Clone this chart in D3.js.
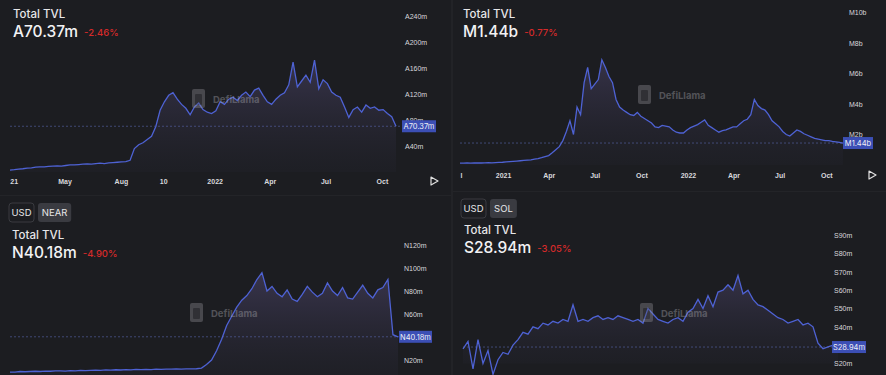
<!DOCTYPE html>
<html><head><meta charset="utf-8">
<script src="https://cdn.jsdelivr.net/npm/d3@7"></script>
<style>
html,body{margin:0;padding:0;background:#1c1d21;}
svg{display:block;font-family:Inter,"Noto Sans",sans-serif;}
</style></head><body>
<svg id="c" width="886" height="375"></svg>
<script>
// ---------- DATA ----------
// Panel 1: chain TVL (weekly from 2021-02-01), millions
const p1Start = "2021-02-01";
const p1Values = [3,3.5,4.5,5,6,6.5,7.5,8,8,8.5,9,9.5,9,10,11,11,11.5,12,12.5,12,13,13.5,13,14,14.5,15,15.5,16,18,36,
  42,45,50,55,70,95,108,118,122,112,104,98,88,100,106,96,92,90,94,108,104,112,115,110,118,123,116,126,129,118,
  108,104,112,118,122,134,169,131,140,149,138,172,128,142,136,123,118,115,100,84,96,100,92,103,98,100,95,96,90,85,70.37];
const p1TickDates = ["2021-02-07","2021-05-01","2021-08-01","2021-10-09","2022-01-01","2022-04-01","2022-07-01","2022-10-01"];
const p1TickLabels = ["21","May","Aug","10","2022","Apr","Jul","Oct"];
const p1YTicks = [40,80,120,160,200,240];
const p1YLabels = ["A40m","A80m","A120m","A160m","A200m","A240m"];

// Panel 2: chain TVL (weekly from 2020-10-08), billions
const p2Start = "2020-10-08";
const p2Values = [0.12,0.12,0.13,0.12,0.13,0.14,0.13,0.14,0.15,0.14,0.16,0.17,0.18,0.2,0.22,0.24,0.26,0.28,0.3,0.32,
  0.34,0.38,0.42,0.48,0.55,0.62,0.8,1.0,1.2,1.6,2.2,2.9,2.0,3.8,3.3,5.4,6.4,5.0,5.3,5.6,
  6.9,6.4,5.8,5.4,4.3,3.8,3.6,3.45,3.3,3.25,3.45,3.2,3.05,2.9,2.75,2.5,2.45,2.6,2.55,2.5,
  2.3,2.15,2.1,2.1,2.3,2.45,2.55,2.65,2.8,2.95,2.6,2.45,2.3,2.15,2.25,2.3,2.4,2.5,2.5,2.7,
  2.9,3.0,3.3,4.3,3.9,3.7,3.6,3.3,2.9,2.7,2.5,2.2,2.0,1.9,2.1,2.3,2.2,2.05,1.95,1.85,
  1.75,1.7,1.65,1.6,1.6,1.55,1.52,1.48,1.44];
const p2TickDates = ["2020-10-10","2021-01-01","2021-04-01","2021-07-01","2021-10-01","2022-01-01","2022-04-01","2022-07-01","2022-10-01"];
const p2TickLabels = ["l","2021","Apr","Jul","Oct","2022","Apr","Jul","Oct"];
const p2YTicks = [2,4,6,8,10];
const p2YLabels = ["M2b","M4b","M6b","M8b","M10b"];

// Panel 3: NEAR denominated TVL (millions)
const p3Values = [9.5,9.5,10,9.8,10,10.2,10,10.4,10.2,10.5,10.6,10.4,10.8,10.6,11,10.8,11,11.2,11,11.4,
  11.2,11.5,11.3,11.6,11.4,11.8,11.6,11.9,11.7,12,11.8,12.1,12,12.2,12.1,12.3,12.2,12.4,13,16,
  20,28,38,50,58,66,72,76,82,90,96,80,84,78,75,81,73,71,77,84,
  79,75,78,87,80,76,83,74,73,79,85,78,74,81,83,90,42,40.18];
const p3YTicks = [20,60,80,100,120];
const p3YLabels = ["N20m","N60m","N80m","N100m","N120m"];

// Panel 4: SOL denominated TVL (millions)
const p4Values = [28,32,17,33,20,27,14,22,26,25,30,33,37,36,40,39,42,41,43,42,
  44,43,52,43,44,43,45,46,44,45,44,46,45,44,43,44,42,50,47,44,
  43,42,44,45,43,48,50,55,50,57,51,59,60,63,60,68,58,60,55,52,
  51,49,47,45,44,42,43,44,41,42,40,31,28,29,30,28.94];
const p4YTicks = [20,40,50,60,70,80,90];
const p4YLabels = ["S20m","S40m","S50m","S60m","S70m","S80m","S90m"];

// ---------- DRAW ----------
const svg = d3.select("#c");
const lineColor = "#4e62d4";
const textColor = "#e6e6e8";
const defs = svg.append("defs");

svg.append("rect").attr("width",886).attr("height",375).attr("fill","#1c1d21");
svg.append("rect").attr("x",451).attr("y",0).attr("width",2).attr("height",375).attr("fill","#222327");
svg.append("rect").attr("x",0).attr("y",195).attr("width",451).attr("height",1).attr("fill","#232428");
svg.append("rect").attr("x",453).attr("y",191).attr("width",433).attr("height",1).attr("fill","#232428");

function watermark(g, x, y){
  const w = g.append("g").attr("transform",`translate(${x},${y})`).attr("opacity",0.35);
  w.append("rect").attr("x",0).attr("y",-14).attr("width",13).attr("height",19).attr("rx",2).attr("fill","#9a9aa0");
  w.append("rect").attr("x",3).attr("y",-9).attr("width",7).attr("height",11).attr("rx",1).attr("fill","#55555c");
  w.append("text").attr("x",21).attr("y",0).attr("fill","#b8b8be").attr("font-size",9.5).attr("font-weight",700).text("DefiLlama");
}

function header(x, y, value, pct){
  svg.append("text").attr("x",x).attr("y",y).attr("fill",textColor).attr("font-size",11.5).attr("font-weight",500).text("Total TVL");
  const v = svg.append("text").attr("x",x).attr("y",y+19).attr("fill","#f2f2f4").attr("font-size",15.5).attr("font-weight",500).text(value);
  const w = v.node().getComputedTextLength();
  svg.append("text").attr("x",x+w+6).attr("y",y+18).attr("fill","#d42a2a").attr("font-size",9.5).attr("font-weight",500).text(pct);
}

function buttons(x, y, label){
  svg.append("rect").attr("x",x).attr("y",y).attr("width",25).attr("height",19).attr("rx",3)
     .attr("fill","none").attr("stroke","#3a3b40");
  svg.append("text").attr("x",x+12.5).attr("y",y+13).attr("text-anchor","middle").attr("fill",textColor).attr("font-size",9.5).text("USD");
  const w = label.length*6.3+8;
  svg.append("rect").attr("x",x+29).attr("y",y).attr("width",w).attr("height",19).attr("rx",3).attr("fill","#3a3b41");
  svg.append("text").attr("x",x+29+w/2).attr("y",y+13).attr("text-anchor","middle").attr("fill",textColor).attr("font-size",9.5).text(label);
}

function panel(opt){
  const {id, x, y, yTicks, yLabels, yLabelX, xTicks, xLabels, axisY, playX, marker, markerX, markerW, wmX, wmY, clipH} = opt;
  const g = svg.append("g");
  defs.append("clipPath").attr("id","clip"+id).append("rect")
      .attr("x",opt.clipX).attr("y",opt.clipY).attr("width",opt.clipW).attr("height",clipH);
  const grad = defs.append("linearGradient").attr("id","grad"+id)
      .attr("gradientUnits","userSpaceOnUse").attr("x1",0).attr("x2",0)
      .attr("y1",opt.gradTop).attr("y2",y.range()[0]);
  grad.append("stop").attr("offset","0%").attr("stop-color","#5a5080").attr("stop-opacity",0.45);
  grad.append("stop").attr("offset","100%").attr("stop-color","#2a2a3a").attr("stop-opacity",0.15);

  const plot = g.append("g").attr("clip-path",`url(#clip${id})`);
  const area = d3.area().x(d=>x(d.k)).y0(y.range()[0]).y1(d=>y(d.v));
  const line = d3.line().x(d=>x(d.k)).y(d=>y(d.v));
  watermark(g, wmX, wmY);
  plot.append("path").datum(opt.data).attr("d",area).attr("fill",`url(#grad${id})`);
  plot.append("path").datum(opt.data).attr("d",line).attr("fill","none").attr("stroke",lineColor).attr("stroke-width",1.3);

  const last = opt.data[opt.data.length-1];
  g.append("line").attr("x1",x.range()[0]).attr("x2",markerX).attr("y1",y(last.v)).attr("y2",y(last.v))
    .attr("stroke","#5b6bb8").attr("stroke-width",0.7).attr("stroke-dasharray","2,2").attr("opacity",0.8);

  const ya = d3.axisRight(y).tickValues(yTicks).tickSize(0).tickFormat((d,i)=>yLabels[i]);
  const yg = g.append("g").attr("transform",`translate(${yLabelX},0)`).call(ya);
  yg.select(".domain").remove();
  yg.selectAll("text").attr("fill","#d8d8dc").attr("font-size",7).attr("x",0).attr("dy","0.32em");

  const my = y(last.v);
  g.append("rect").attr("x",markerX).attr("y",my-6).attr("width",markerW).attr("height",12).attr("fill","#3c4fb5");
  g.append("text").attr("x",markerX+markerW/2).attr("y",my+3).attr("text-anchor","middle").attr("fill","#f0f0f5").attr("font-size",7.5).text(marker);

  if (xTicks){
    const xa = d3.axisBottom(x).tickValues(xTicks).tickSize(0).tickFormat((d,i)=>xLabels[i]);
    const xg = g.append("g").attr("transform",`translate(0,${axisY})`).call(xa);
    xg.select(".domain").remove();
    xg.selectAll("text").attr("fill","#d8d8dc").attr("font-size",7).attr("font-weight",600);
    g.append("path").attr("d",`M${playX},${axisY+1} L${playX+7},${axisY+5} L${playX},${axisY+9} Z`)
      .attr("fill","none").attr("stroke","#e0e0e0").attr("stroke-width",1.2).attr("stroke-linejoin","round");
  }
}

const parse = d3.timeParse("%Y-%m-%d");
function weekly(start, vals){
  const s = parse(start);
  return vals.map((v,i)=>({k:d3.timeDay.offset(s,i*7), v}));
}
function indexed(vals){ return vals.map((v,i)=>({k:i, v})); }

// Panel 1
const d1 = weekly(p1Start, p1Values);
const x1 = d3.scaleTime().domain(d3.extent(d1,d=>d.k)).range([10,396]);
const y1 = d3.scaleLinear().domain([0,240]).range([172,16]);
header(13, 18, "A70.37m", "-2.46%");
panel({id:1, x:x1, y:y1, data:d1, yTicks:p1YTicks, yLabels:p1YLabels, yLabelX:405,
  xTicks:p1TickDates.map(parse), xLabels:p1TickLabels, axisY:176, playX:431,
  marker:"A70.37m", markerX:402, markerW:34, wmX:192, wmY:103,
  clipX:0, clipY:0, clipW:400, clipH:174, gradTop:60});

// Panel 2
const d2 = weekly(p2Start, p2Values);
const x2 = d3.scaleTime().domain(d3.extent(d2,d=>d.k)).range([460,843]);
const y2 = d3.scaleLinear().domain([0,10]).range([165,12.5]);
header(463, 18, "M1.44b", "-0.77%");
panel({id:2, x:x2, y:y2, data:d2, yTicks:p2YTicks, yLabels:p2YLabels, yLabelX:849,
  xTicks:p2TickDates.map(parse), xLabels:p2TickLabels, axisY:170, playX:869,
  marker:"M1.44b", markerX:843, markerW:30, wmX:638, wmY:99,
  clipX:455, clipY:0, clipW:390, clipH:166, gradTop:55});

// Panel 3
const d3v = indexed(p3Values);
const x3 = d3.scaleLinear().domain([0,p3Values.length-1]).range([10,398]);
const y3 = d3.scaleLinear().domain([0,120]).range([383,245]);
buttons(9, 203, "NEAR");
header(12, 239, "N40.18m", "-4.90%");
panel({id:3, x:x3, y:y3, data:d3v, yTicks:p3YTicks, yLabels:p3YLabels, yLabelX:404,
  xTicks:null, marker:"N40.18m", markerX:399, markerW:33, wmX:190, wmY:317,
  clipX:0, clipY:200, clipW:400, clipH:175, gradTop:275});

// Panel 4
const d4 = indexed(p4Values);
const x4 = d3.scaleLinear().domain([0,p4Values.length-1]).range([463,838]);
const y4 = d3.scaleLinear().domain([20,90]).range([363.4,235.3]);
buttons(461, 199, "SOL");
header(464, 234, "S28.94m", "-3.05%");
panel({id:4, x:x4, y:y4, data:d4, yTicks:p4YTicks, yLabels:p4YLabels, yLabelX:834,
  xTicks:null, marker:"S28.94m", markerX:832, markerW:34, wmX:640, wmY:317,
  clipX:455, clipY:200, clipW:385, clipH:175, gradTop:270});
</script>
</body></html>
